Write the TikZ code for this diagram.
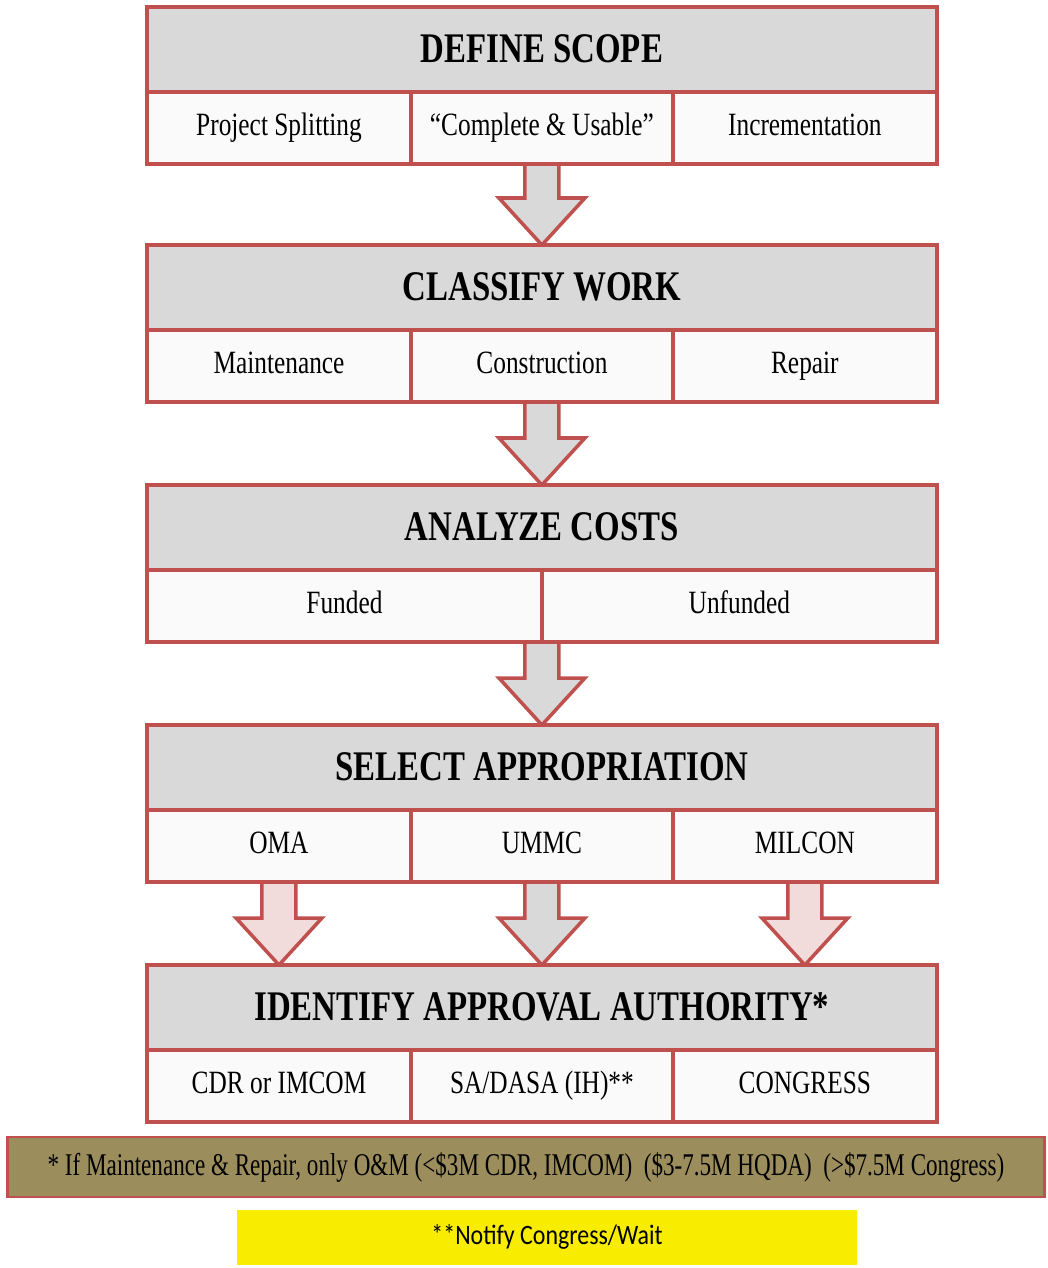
\documentclass[tikz,border=0pt]{standalone}
\usepackage{fontspec}
\setmainfont{Liberation Serif}[FakeStretch=0.78]
\newfontfamily\footfont{Liberation Serif}[FakeStretch=0.73]
\newfontfamily\notefont{Carlito}[FakeStretch=0.85]
\usetikzlibrary{calc}
\pgfdeclarelayer{background}
\pgfsetlayers{background,main}

\definecolor{boxred}{HTML}{C0504D}
\definecolor{headgray}{HTML}{D9D9D9}
\definecolor{cellwhite}{HTML}{FAFAFA}
\definecolor{arrowpink}{HTML}{F2DCDB}
\definecolor{noteolive}{HTML}{9C8D5C}
\definecolor{noteyellow}{HTML}{F8EC00}

% block arrow: fill, start on the box above, tip on the box below
\newcommand{\bigarrow}[3]{%
  \draw[bigarrowline, fill=#1] ($(#2)+(-17,0)$) -- ($(#3)+(-17,-47)$)
    -- ($(#3)+(-43,-47)$) -- (#3) -- ($(#3)+(43,-47)$)
    -- ($(#3)+(17,-47)$) -- ($(#2)+(17,0)$) -- cycle;}

\begin{document}
\begin{tikzpicture}[x=0.02cm, y=-0.02cm]
        % styles %
        \tikzstyle{headbox} = [draw=boxred, line width=2pt, fill=headgray, anchor=north west,
                               minimum width=15.8cm, minimum height=1.7cm, inner sep=0pt, outer sep=0pt,
                               text height=17pt, text depth=2pt,
                               font=\fontsize{24}{28}\selectfont\bfseries];
        \tikzstyle{cellbox} = [draw=boxred, line width=2pt, fill=cellwhite, anchor=north west,
                               minimum width=5.28cm, minimum height=1.44cm, inner sep=0pt, outer sep=0pt,
                               text height=13pt, text depth=4pt,
                               font=\fontsize{18.5}{22}\selectfont];
        \tikzstyle{midcell} = [cellbox, minimum width=5.24cm];
        \tikzstyle{halfcell} = [cellbox, minimum width=7.9cm];
        \tikzstyle{bigarrowline} = [draw=boxred, line width=2pt, line join=miter];
        \tikzstyle{notebox} = [draw=boxred, line width=1.5pt, fill=noteolive, outer sep=0pt,
                               minimum width=20.74cm, minimum height=1.2cm, inner sep=0pt,
                               font=\footfont\fontsize{18}{22}\selectfont];
        \tikzstyle{waitbox} = [fill=noteyellow, minimum width=12.42cm, minimum height=1.1cm,
                               inner sep=0pt, outer sep=0pt, font=\notefont\fontsize{16}{20}\selectfont];

        \useasboundingbox (0,0) rectangle (1048,1268);

        % nodes %
        \node [headbox] (scope) at (147,7) {DEFINE SCOPE};
        \node [cellbox] (split) at (scope.south west) {Project Splitting};
        \node [midcell] (usable) at (split.north east) {``Complete \& Usable''};
        \node [cellbox] (increment) at (usable.north east) {Incrementation};

        \node [headbox] (classify) at (147,245) {CLASSIFY WORK};
        \node [cellbox] (maint) at (classify.south west) {Maintenance};
        \node [midcell] (constr) at (maint.north east) {Construction};
        \node [cellbox] (repair) at (constr.north east) {Repair};

        \node [headbox] (costs) at (147,485) {ANALYZE COSTS};
        \node [halfcell] (funded) at (costs.south west) {Funded};
        \node [halfcell] (unfunded) at (funded.north east) {Unfunded};

        \node [headbox] (approp) at (147,725) {SELECT APPROPRIATION};
        \node [cellbox] (oma) at (approp.south west) {OMA};
        \node [midcell] (ummc) at (oma.north east) {UMMC};
        \node [cellbox] (milcon) at (ummc.north east) {MILCON};

        \node [headbox] (authority) at (147,965) {IDENTIFY APPROVAL AUTHORITY*};
        \node [cellbox] (cdr) at (authority.south west) {CDR or IMCOM};
        \node [midcell] (sadasa) at (cdr.north east) {SA/DASA (IH)**};
        \node [cellbox] (congress) at (sadasa.north east) {CONGRESS};

        \node [notebox] (note) at (526,1167)
              {* If Maintenance \& Repair, only O\&M (<\$3M CDR, IMCOM)\ \ (\$3-7.5M HQDA)\ \ (>\$7.5M Congress)};
        \node [waitbox] (wait) at (547,1237) {**Notify Congress/Wait};

        % edges %
        \begin{pgfonlayer}{background}
        \bigarrow{headgray}{usable.south}{classify.north}
        \bigarrow{headgray}{constr.south}{costs.north}
        \bigarrow{headgray}{costs.south |- funded.south}{approp.north}
        \bigarrow{arrowpink}{oma.south}{oma.south |- authority.north}
        \bigarrow{headgray}{ummc.south}{authority.north}
        \bigarrow{arrowpink}{milcon.south}{milcon.south |- authority.north}
        \end{pgfonlayer}
\end{tikzpicture}
\end{document}
